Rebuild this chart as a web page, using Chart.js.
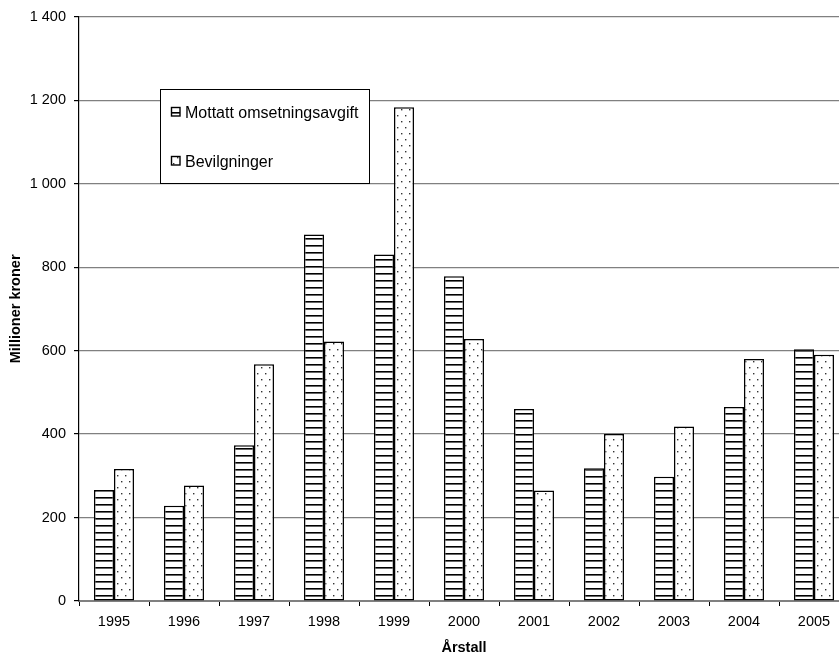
<!DOCTYPE html>
<html>
<head>
<meta charset="utf-8">
<script src="https://cdn.jsdelivr.net/npm/chart.js@4"></script>
<style>
html,body{margin:0;padding:0;background:#fff;overflow:hidden;}
#wrap{width:839px;height:653px;overflow:hidden;position:relative;}
</style>
</head>
<body>
<div id="wrap"><canvas id="c" width="853" height="660"></canvas></div>
<script>
const years = ["1995","1996","1997","1998","1999","2000","2001","2002","2003","2004","2005"];
const mottatt = [266, 228, 373, 878, 830, 778, 460, 318, 298, 465, 603];
const bevilgninger = [316, 277, 567, 622, 1183, 628, 265, 400, 418, 580, 590];
const seriesNames = ["Mottatt omsetningsavgift", "Bevilgninger"];
const yTicks = [0, 200, 400, 600, 800, 1000, 1200, 1400];
const FONT = '"Liberation Sans", Arial, sans-serif';

function stripePattern(){
  const c = document.createElement('canvas'); c.width = 8; c.height = 7;
  const g = c.getContext('2d');
  g.fillStyle = '#fff'; g.fillRect(0,0,8,7);
  g.fillStyle = '#000'; g.fillRect(0,0,8,1.6);
  return g.createPattern(c,'repeat');
}
function dotPattern(){
  const c = document.createElement('canvas'); c.width = 8; c.height = 12;
  const g = c.getContext('2d');
  g.fillStyle = '#fff'; g.fillRect(0,0,8,12);
  g.fillStyle = '#333';
  g.fillRect(1,1,1.4,1.4);
  g.fillRect(5,7,1.4,1.4);
  return g.createPattern(c,'repeat');
}
const pats = [stripePattern(), dotPattern()];

const legendPlugin = {
  id: 'boxLegend',
  afterDraw(chart){
    const ctx = chart.ctx;
    const x = 160, y = 89, w = 209, h = 94;
    ctx.save();
    ctx.fillStyle = '#fff';
    ctx.fillRect(x, y, w, h);
    ctx.strokeStyle = '#000'; ctx.lineWidth = 1;
    ctx.strokeRect(x+0.5, y+0.5, w, h);
    ctx.font = '16px ' + FONT;
    ctx.textBaseline = 'middle';
    const rows = [112, 161];
    chart.data.datasets.forEach((ds, i) => {
      const ry = rows[i];
      ctx.fillStyle = ds.backgroundColor;
      ctx.fillRect(171, ry-5, 9, 9);
      ctx.strokeStyle = '#000'; ctx.lineWidth = 1.4;
      ctx.strokeRect(171.5, ry-4.5, 8.5, 8.5);
      ctx.fillStyle = '#000';
      ctx.fillText(ds.label, 185, ry+1.5);
    });
    ctx.restore();
  }
};

new Chart(document.getElementById('c'), {
  type: 'bar',
  data: {
    labels: years,
    datasets: [
      { label: seriesNames[0], data: mottatt, backgroundColor: pats[0], borderColor: '#000', borderWidth: 1.5, borderSkipped: false },
      { label: seriesNames[1], data: bevilgninger, backgroundColor: pats[1], borderColor: '#000', borderWidth: 1.5, borderSkipped: false }
    ]
  },
  options: {
    responsive: false,
    animation: false,
    devicePixelRatio: 1,
    layout: { padding: { top: 15, right: 4, left: 0, bottom: 0 } },
    datasets: { bar: { barPercentage: 1.0, categoryPercentage: 0.5714 } },
    plugins: { legend: { display: false }, tooltip: { enabled: false } },
    scales: {
      x: {
        grid: { offset: true, drawOnChartArea: false, tickLength: 5, color: '#000', lineWidth: 1 },
        border: { color: '#808080', width: 2 },
        ticks: { color: '#000', font: { family: FONT, size: 14.5 }, padding: 7, maxRotation: 0 },
        title: { display: true, text: 'Årstall', color: '#000', font: { family: FONT, size: 14.5, weight: 'bold' }, padding: { top: 0, bottom: 3.5 } },
        afterFit(s){ s.height = 59; }
      },
      y: {
        min: 0, max: 1400,
        afterBuildTicks(s){ s.ticks = yTicks.map(v => ({ value: v })); },
        grid: { color: '#808080', lineWidth: 1.2, tickLength: 5, tickColor: '#000' },
        border: { color: '#000', width: 1.2 },
        ticks: { color: '#000', font: { family: FONT, size: 14.5 }, padding: 8,
          callback: v => String(v).replace(/\B(?=(\d{3})+(?!\d))/g, ' ') },
        title: { display: true, text: 'Millioner kroner', color: '#000', font: { family: FONT, size: 14.5, weight: 'bold' }, padding: { top: 7, bottom: 0 } },
        afterFit(s){ s.width = 79; }
      }
    }
  },
  plugins: [legendPlugin]
});
</script>
</body>
</html>
